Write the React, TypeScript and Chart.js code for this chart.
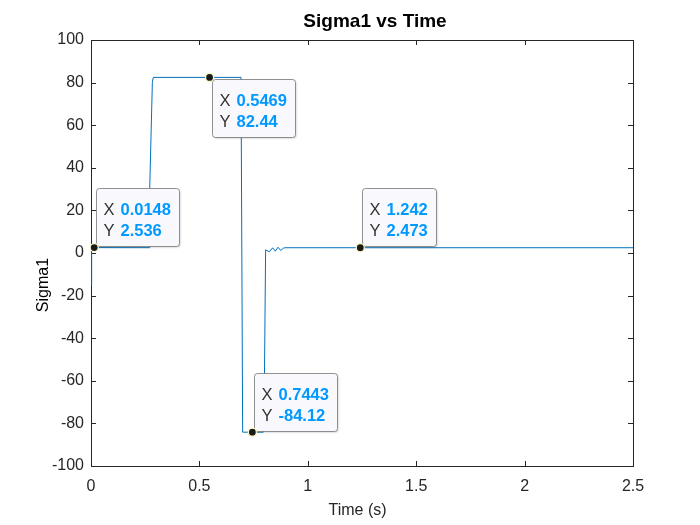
import React, { useEffect, useRef } from "react";
import { Chart, registerables } from "chart.js";

Chart.register(...registerables);

// ---- data ----
const timeValues = [
  0, 0.003, 0.0148, 0.268, 0.271, 0.283, 0.287, 0.5469, 0.692, 0.6995,
  0.7443, 0.795, 0.799, 0.8054, 0.8224, 0.838, 0.85, 0.8625, 0.875, 0.887, 0.895,
  1.242, 2.5,
];
const sigmaValues = [
  -15, 1.5, 2.536, 2.5, 31, 80, 82.44, 82.44, 82.44, -84.12,
  -84.12, -84.12, -70, 1.5, 0.56, 2.44, 0.84, 2.7, 1.17, 2.25, 2.47,
  2.473, 2.473,
];
const xTicks = [0, 0.5, 1, 1.5, 2, 2.5];
const yTicks = [-100, -80, -60, -40, -20, 0, 20, 40, 60, 80, 100];
const tipTimes = [0.0148, 0.5469, 0.7443, 1.242];
const tipSigmas = [2.536, 82.44, -84.12, 2.473];
const tipXText = ["0.0148", "0.5469", "0.7443", "1.242"];
const tipYText = ["2.536", "82.44", "-84.12", "2.473"];
const tipBelow = [false, true, false, false];
const titleText = "Sigma1 vs Time";
const xLabelText = "Time (s)";
const yLabelText = "Sigma1";

const FONT = "'Liberation Sans', Arial, Helvetica, sans-serif";
const AXIS_COLOR = "#262626";

const matlabPlugin = {
  id: "matlabLook",
  beforeDatasetsDraw(chart: any) {
    const { ctx, chartArea, scales } = chart;
    const { left, right, top, bottom } = chartArea;
    ctx.save();
    ctx.strokeStyle = AXIS_COLOR;
    ctx.lineWidth = 1;
    ctx.strokeRect(Math.round(left) + 0.5, Math.round(top) + 0.5, Math.round(right - left), Math.round(bottom - top));
    const tl = 5;
    ctx.beginPath();
    for (const t of scales.x.ticks) {
      const px = Math.round(scales.x.getPixelForValue(t.value)) + 0.5;
      ctx.moveTo(px, bottom);
      ctx.lineTo(px, bottom - tl);
      ctx.moveTo(px, top);
      ctx.lineTo(px, top + tl);
    }
    for (const t of scales.y.ticks) {
      const py = Math.round(scales.y.getPixelForValue(t.value)) + 0.5;
      ctx.moveTo(left, py);
      ctx.lineTo(left + tl, py);
      ctx.moveTo(right, py);
      ctx.lineTo(right - tl, py);
    }
    ctx.stroke();
    ctx.restore();
  },
  afterDatasetDraw(chart: any, args: any) {
    if (args.index !== 0) return;
    const { ctx, scales } = chart;
    ctx.save();
    const fs = 16.5;
    for (let i = 0; i < tipTimes.length; i++) {
      const px = scales.x.getPixelForValue(tipTimes[i]);
      const py = scales.y.getPixelForValue(tipSigmas[i]);
      const labW = 17;
      ctx.font = `bold ${fs}px ${FONT}`;
      const w1 = ctx.measureText(tipXText[i]).width;
      const w2 = ctx.measureText(tipYText[i]).width;
      const w = Math.max(w1, w2) + labW + 7 + 9;
      const h = 58;
      const bx = Math.round(px + 2) + 0.5;
      const by = Math.round(tipBelow[i] ? py + 1.5 : py - 1.5 - h) + 0.5;
      ctx.beginPath();
      ctx.roundRect(bx, by, Math.round(w), h, 3);
      ctx.fillStyle = "#F9F9FD";
      ctx.shadowColor = "rgba(0,0,0,0.18)";
      ctx.shadowOffsetX = 1;
      ctx.shadowOffsetY = 1;
      ctx.shadowBlur = 2;
      ctx.fill();
      ctx.shadowColor = "transparent";
      ctx.strokeStyle = "rgba(110,110,110,0.75)";
      ctx.lineWidth = 1;
      ctx.stroke();
      ctx.textBaseline = "alphabetic";
      ctx.textAlign = "left";
      ctx.font = `${fs}px ${FONT}`;
      ctx.fillStyle = "#333333";
      ctx.fillText("X", bx + 7, by + 26);
      ctx.fillText("Y", bx + 7, by + 47.5);
      ctx.font = `bold ${fs}px ${FONT}`;
      ctx.fillStyle = "#0099FF";
      ctx.fillText(tipXText[i], bx + 7 + labW, by + 26);
      ctx.fillText(tipYText[i], bx + 7 + labW, by + 47.5);
    }
    ctx.restore();
  },
  afterDraw(chart: any) {
    const { ctx } = chart;
    ctx.save();
    ctx.fillStyle = "#000000";
    ctx.textAlign = "center";
    ctx.textBaseline = "alphabetic";
    ctx.font = `bold 19px ${FONT}`;
    ctx.fillText(titleText, 375, 27);
    ctx.fillStyle = AXIS_COLOR;
    ctx.font = `16px ${FONT}`;
    ctx.fillText(xLabelText, 357.5, 515);
    ctx.fillStyle = "#000000";
    ctx.font = `16px ${FONT}`;
    ctx.translate(47.5, 285);
    ctx.rotate(-Math.PI / 2);
    ctx.fillText(yLabelText, 0, 0);
    ctx.restore();
  },
};

export default function App() {
  const canvasRef = useRef<HTMLCanvasElement | null>(null);

  useEffect(() => {
    const canvas = canvasRef.current;
    if (!canvas) return;
    const lineData = timeValues.map((t, i) => ({ x: t, y: sigmaValues[i] }));
    const tipData = tipTimes.map((t, i) => ({ x: t, y: tipSigmas[i] }));
    const chart = new Chart(canvas, {
      type: "scatter",
      data: {
        datasets: [
          {
            data: lineData,
            showLine: true,
            borderColor: "#0072BD",
            backgroundColor: "#0072BD",
            borderWidth: 1,
            pointRadius: 0,
            tension: 0,
            order: 1,
          } as any,
          {
            data: tipData,
            showLine: false,
            pointRadius: 4,
            pointBackgroundColor: "#1a1a1a",
            pointBorderColor: "#ffffc4",
            pointBorderWidth: 1.2,
            order: 0,
            clip: false,
          } as any,
        ],
      },
      options: {
        animation: false,
        responsive: true,
        maintainAspectRatio: false,
        events: [],
        layout: { padding: { top: 40, right: 67, bottom: 0, left: 0 } },
        plugins: {
          legend: { display: false },
          tooltip: { enabled: false },
          title: { display: false },
        },
        scales: {
          x: {
            type: "linear",
            min: 0,
            max: 2.5,
            grid: { display: false, drawTicks: false },
            border: { display: false },
            afterBuildTicks: (s: any) => {
              s.ticks = xTicks.map((v) => ({ value: v }));
            },
            afterFit: (s: any) => {
              s.height = 59;
            },
            ticks: {
              font: { family: FONT, size: 16 },
              color: AXIS_COLOR,
              padding: 11,
              maxRotation: 0,
              autoSkip: false,
              callback: (v: any) => String(v),
            },
          },
          y: {
            type: "linear",
            min: -100,
            max: 100,
            grid: { display: false, drawTicks: false },
            border: { display: false },
            afterBuildTicks: (s: any) => {
              s.ticks = yTicks.map((v) => ({ value: v }));
            },
            afterFit: (s: any) => {
              s.width = 91;
            },
            ticks: {
              font: { family: FONT, size: 16 },
              color: AXIS_COLOR,
              padding: 7,
              autoSkip: false,
              callback: (v: any) => String(v),
            },
          },
        },
      },
      plugins: [matlabPlugin],
    });
    return () => chart.destroy();
  }, []);

  return (
    <div
      style={{
        position: "absolute",
        left: 0,
        top: 0,
        width: 700,
        height: 525,
        background: "#ffffff",
      }}
    >
      <canvas ref={canvasRef} />
    </div>
  );
}
